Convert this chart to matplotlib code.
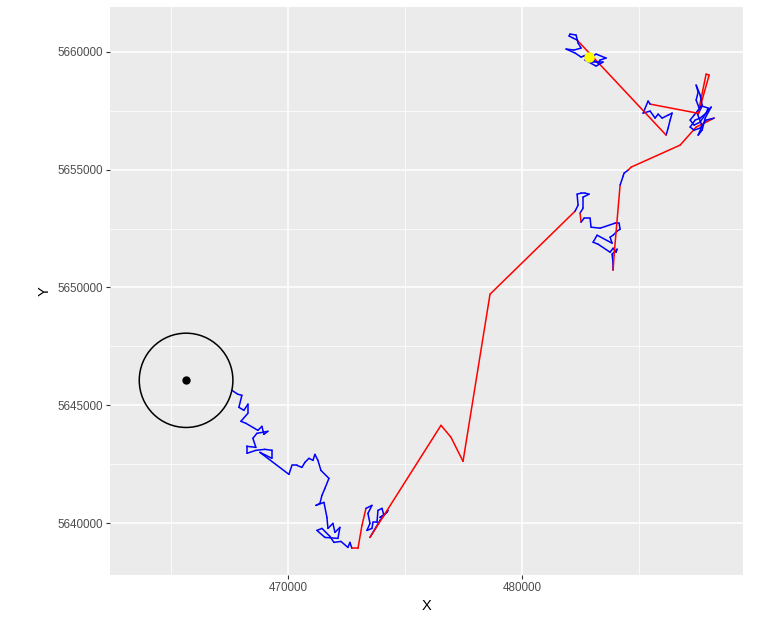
import numpy as np
import matplotlib
matplotlib.use('Agg')
import matplotlib.pyplot as plt
from matplotlib.collections import LineCollection
from matplotlib.patches import Circle

plt.rcParams['font.family'] = ['Liberation Sans', 'DejaVu Sans']

# track positions (UTM metres), in time order
track_x = [
    467607, 467863, 468034, 467906, 468119, 468290, 468290, 467991, 468205, 468718,
    468889, 468974, 469145, 468675, 468504, 468632, 468248, 468248, 468632, 469017,
    469316, 469316, 469060, 468803, 470043, 470171, 470385, 470598, 470727, 470898,
    471069, 471154, 471282, 471410, 471752, 471581, 471453, 471368, 471197, 471539,
    471667, 471710, 471923, 472009, 472222, 472137, 471581, 471239, 471453, 471795,
    471966, 472265, 472564, 472650, 472735, 472992, 473163, 473334, 473590, 473419,
    473505, 473376, 473590, 473633, 473804, 473847, 474018, 474103, 473932, 474231,
    474274, 473932, 473505, 476539, 476967, 477480, 478633, 482266, 482395, 482352,
    482523, 482694, 482865, 482608, 482608, 482480, 482523, 482651, 482907, 482950,
    483335, 483976, 484147, 484190, 484061, 483891, 483762, 483848, 483207, 483036,
    483249, 483762, 483891, 484019, 484061, 483848, 483891, 483891, 483933, 484190,
    484318, 484361, 484532, 484660, 486754, 487438, 488207, 487865, 487609, 487352,
    487181, 487395, 487609, 487865, 487951, 487694, 487523, 487994, 487865, 487566,
    487438, 487523, 487438, 487609, 487694, 487352, 487181, 487352, 487609, 487951,
    488079, 487823, 487694, 487523, 487694, 487481, 485472, 485386, 485173, 485472,
    485686, 485814, 485985, 486241, 486412, 486327, 486241, 486156, 482352, 482181,
    482010, 482053, 482309, 482395, 482523, 482224, 481882, 482266, 482523, 482737,
    483036, 483249, 483335, 483591, 483164, 482907, 482694, 483164, 483463, 482993,
    482651, 482865,
]
track_y = [
    5645637, 5645467, 5645425, 5644915, 5644788, 5645042, 5644660, 5644321, 5644236, 5643938,
    5644108, 5643769, 5643896, 5643811, 5643599, 5643217, 5643259, 5642962, 5643089, 5643132,
    5643089, 5642750, 5642877, 5643004, 5642070, 5642452, 5642452, 5642367, 5642580, 5642750,
    5642665, 5642919, 5642665, 5642240, 5641900, 5641476, 5641179, 5640839, 5640754, 5640881,
    5640244, 5639777, 5639990, 5639608, 5639820, 5639353, 5639395, 5639692, 5639777, 5639438,
    5639183, 5639225, 5638971, 5639183, 5638928, 5638928, 5639905, 5640627, 5640754, 5640414,
    5639990, 5639692, 5639777, 5640032, 5640032, 5640542, 5640627, 5640329, 5640244, 5640457,
    5640542, 5640117, 5639395, 5644151, 5643641, 5642622, 5649713, 5653237, 5653492, 5653959,
    5654002, 5654002, 5653959, 5653832, 5653365, 5653152, 5652770, 5652940, 5652940, 5652558,
    5652515, 5652728, 5652728, 5652473, 5652388, 5652218, 5652133, 5651879, 5652218, 5651921,
    5651836, 5651496, 5651666, 5651496, 5651624, 5651411, 5651029, 5650732, 5651369, 5654341,
    5654723, 5654851, 5654978, 5655105, 5656040, 5656804, 5657186, 5657101, 5656761, 5656677,
    5656804, 5657101, 5657186, 5657398, 5657611, 5657696, 5657356, 5659012, 5659054, 5657611,
    5657950, 5658290, 5658587, 5658163, 5657738, 5657313, 5657101, 5656889, 5657016, 5657526,
    5657653, 5657186, 5656677, 5656464, 5656846, 5657398, 5657780, 5657908, 5657398, 5657483,
    5657186, 5657356, 5657186, 5657313, 5657398, 5657101, 5656761, 5656464, 5660498, 5660583,
    5660668, 5660753, 5660710, 5660371, 5660158, 5660073, 5660116, 5659946, 5659776, 5659861,
    5659649, 5659521, 5659649, 5659734, 5659903, 5659734, 5659649, 5659394, 5659564, 5659564,
    5659818, 5659776,
]
# steps (index of start point) flagged as jumps
jump_steps = [54, 55, 56, 72, 73, 74, 75, 76, 85, 107, 108, 112, 113, 114, 115,
              126, 127, 128, 145, 157]

home_x, home_y = 465650, 5646060
home_radius = 2000
last_x, last_y = 482865, 5659776

x_ticks = [470000, 480000]
y_ticks = [5640000, 5645000, 5650000, 5655000, 5660000]

fig = plt.figure(figsize=(7.82, 6.17), dpi=100)
ax = fig.add_axes([110 / 782, 42 / 617, 633 / 782, 568 / 617])
ax.set_facecolor('#EBEBEB')

pts = np.column_stack([track_x, track_y])
segs = np.stack([pts[:-1], pts[1:]], axis=1)
cols = ['red' if i in jump_steps else 'blue' for i in range(len(segs))]
ax.add_collection(LineCollection(segs, colors=cols, linewidths=1.1,
                                 capstyle='round', joinstyle='round', zorder=3))

ax.add_patch(Circle((home_x, home_y), home_radius, fill=False, ec='black', lw=1.1, zorder=3))
ax.plot(home_x, home_y, 'o', color='black', ms=5, zorder=4)
ax.plot(last_x, last_y, 'o', color='yellow', ms=6.5, zorder=4)

ax.set_xlim(462400, 489440)
ax.set_ylim(5637800, 5661900)
ax.set_xticks(x_ticks)
ax.set_yticks(y_ticks)
ax.set_xticks([465000, 475000, 485000], minor=True)
ax.set_yticks([5642500, 5647500, 5652500, 5657500], minor=True)
ax.set_xticklabels([str(v) for v in x_ticks])
ax.set_yticklabels([str(v) for v in y_ticks])

ax.grid(True, which='major', color='white', lw=1.1, zorder=0)
ax.grid(True, which='minor', color='white', lw=0.55, zorder=0)
ax.set_axisbelow(True)
for s in ax.spines.values():
    s.set_visible(False)
ax.tick_params(which='major', length=3, width=0.8, color='#333333',
               labelsize=8.4, labelcolor='#4D4D4D', pad=2)
ax.tick_params(which='minor', length=0)

ax.set_xlabel('X', fontsize=10.5, labelpad=4)
ax.set_ylabel('Y', fontsize=10.5, labelpad=4)

fig.savefig('out.png', dpi=100)
